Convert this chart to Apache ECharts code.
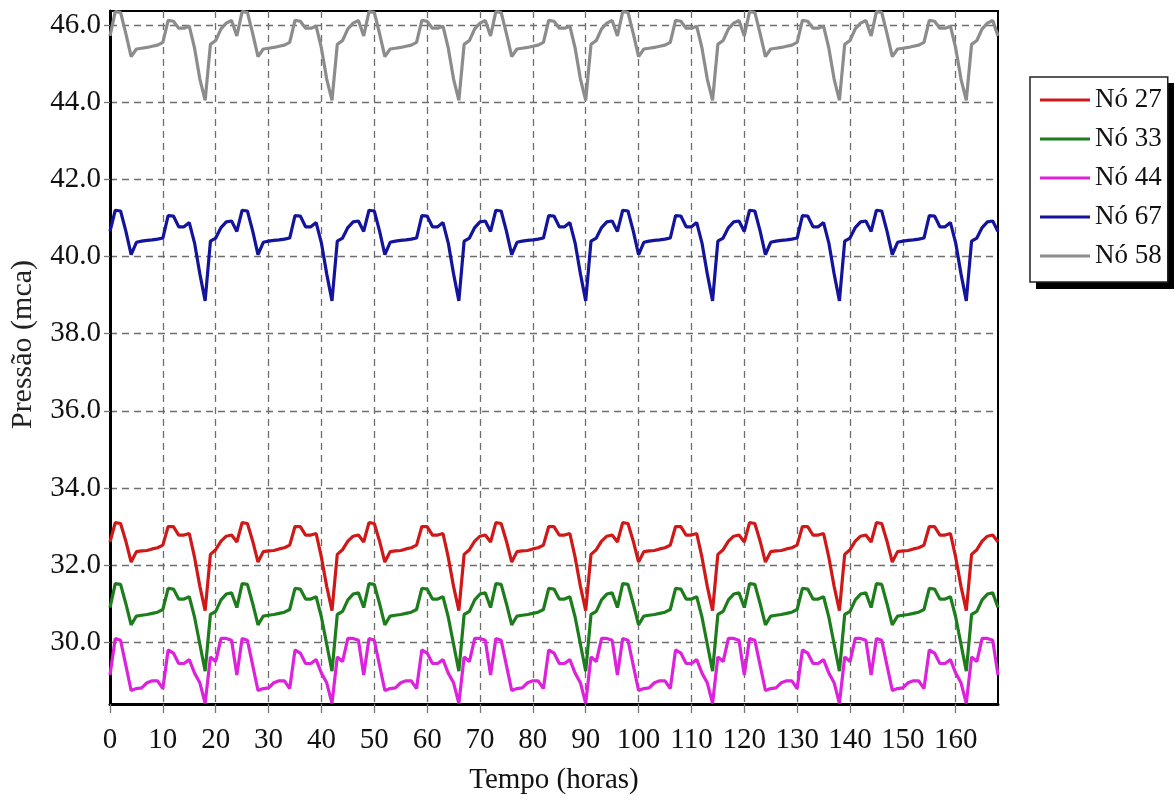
<!DOCTYPE html>
<html>
<head>
<meta charset="utf-8">
<script src="https://cdn.jsdelivr.net/npm/echarts@6.0.0/dist/echarts.min.js"></script>
<style>
  html, body { margin: 0; padding: 0; background: #ffffff; }
  #chart { width: 1175px; height: 803px; }
</style>
</head>
<body>
<div id="chart"></div>
<script>
// Hourly pressure (mca) over one day, hour 0..23; the simulation repeats this day for a week
const no27Dia = [32.60, 33.10, 33.08, 32.62, 32.08, 32.35, 32.37, 32.38, 32.42, 32.45, 32.52, 33.00,
                 33.00, 32.78, 32.78, 32.82, 32.20, 31.45, 30.82, 32.28, 32.40, 32.62, 32.75, 32.78];
const no33Dia = [30.90, 31.52, 31.50, 31.00, 30.45, 30.68, 30.70, 30.72, 30.75, 30.78, 30.85, 31.40,
                 31.38, 31.12, 31.12, 31.18, 30.65, 29.95, 29.25, 30.72, 30.80, 31.10, 31.25, 31.28];
const no44Dia = [29.15, 30.10, 30.05, 29.40, 28.75, 28.80, 28.82, 28.95, 29.00, 29.00, 28.80, 29.80,
                 29.72, 29.45, 29.45, 29.55, 29.20, 28.95, 28.42, 29.62, 29.50, 30.10, 30.10, 30.05];
const no67Dia = [40.65, 41.20, 41.18, 40.66, 40.05, 40.37, 40.40, 40.42, 40.43, 40.45, 40.48, 41.06,
                 41.05, 40.77, 40.77, 40.88, 40.35, 39.55, 38.85, 40.40, 40.48, 40.75, 40.90, 40.92];
const no58Dia = [45.72, 46.35, 46.33, 45.78, 45.18, 45.38, 45.40, 45.42, 45.45, 45.48, 45.55, 46.12,
                 46.10, 45.92, 45.92, 45.97, 45.40, 44.60, 44.05, 45.50, 45.60, 45.90, 46.05, 46.12];

const nomes = ['Nó 27', 'Nó 33', 'Nó 44', 'Nó 67', 'Nó 58'];
const cores = ['#d01818', '#1d7d1d', '#dc22dc', '#13139c', '#8c8c8c'];
const perfis = [no27Dia, no33Dia, no44Dia, no67Dia, no58Dia];

const numDias = 7;
const ticksX = [0, 10, 20, 30, 40, 50, 60, 70, 80, 90, 100, 110, 120, 130, 140, 150, 160];
const ticksY = [30, 32, 34, 36, 38, 40, 42, 44, 46];

// Unroll the daily profile into [hour, pressure] pairs for the whole week (0..168 h)
function semana(perfil) {
  const pts = [];
  for (let d = 0; d < numDias; d++) {
    perfil.forEach((v, h) => pts.push([d * 24 + h, v]));
  }
  pts.push([numDias * 24, perfil[0]]);
  return pts;
}

const fonte = 'Liberation Serif';
const grade = { color: '#6e6e6e', width: 1.3, type: [7, 5] };

const chart = echarts.init(document.getElementById('chart'), null, { renderer: 'canvas' });

chart.setOption({
  backgroundColor: '#ffffff',
  animation: false,
  grid: {
    left: 110, right: 177, top: 11, bottom: 99,
    show: true, borderColor: '#000', borderWidth: 2, backgroundColor: 'transparent'
  },
  // solid drop shadow behind the legend box
  graphic: [{
    type: 'rect',
    left: 1036, top: 83,
    shape: { width: 138, height: 206 },
    style: { fill: '#000' },
    z: 0, zlevel: 0, silent: true
  }],
  legend: {
    orient: 'vertical',
    left: 1030, top: 77,
    data: nomes,
    icon: 'rect',
    itemWidth: 50, itemHeight: 3, itemGap: 9,
    padding: [8, 6, 11, 10],
    backgroundColor: '#ffffff',
    borderColor: '#222', borderWidth: 1.5,
    selectedMode: false,
    z: 10,
    textStyle: { fontFamily: fonte, fontSize: 27, color: '#111', lineHeight: 30 }
  },
  xAxis: {
    type: 'value',
    min: 0, max: 168,
    name: 'Tempo (horas)',
    nameLocation: 'middle', nameGap: 62,
    nameTextStyle: { fontFamily: fonte, fontSize: 29, color: '#111' },
    axisLine: { show: true, onZero: false, lineStyle: { color: '#000', width: 3 } },
    axisTick: { show: true, length: 9, customValues: ticksX, lineStyle: { color: '#777', width: 1.3 } },
    axisLabel: { customValues: ticksX, margin: 22, fontFamily: fonte, fontSize: 29, color: '#111' },
    splitLine: { show: true, lineStyle: grade }
  },
  yAxis: {
    type: 'value',
    min: 28.40, max: 46.365,
    name: 'Pressão (mca)',
    nameLocation: 'middle', nameGap: 72, nameRotate: 90,
    nameTextStyle: { fontFamily: fonte, fontSize: 30, color: '#222', padding: [0, 0, 0, 26] },
    axisLine: { show: true, lineStyle: { color: '#000', width: 3 } },
    axisTick: { show: true, length: 6, customValues: ticksY, lineStyle: { color: '#777', width: 1.3 } },
    axisLabel: {
      customValues: ticksY, margin: 9, fontFamily: fonte, fontSize: 29, color: '#111',
      formatter: v => v.toFixed(1)
    },
    splitLine: { show: true, lineStyle: grade }
  },
  series: perfis.map((p, i) => ({
    name: nomes[i],
    type: 'line',
    data: semana(p),
    symbol: 'none',
    smooth: false,
    clip: true,
    color: cores[i],
    lineStyle: { color: cores[i], width: 3.2 },
    z: 3
  }))
});
</script>
</body>
</html>
